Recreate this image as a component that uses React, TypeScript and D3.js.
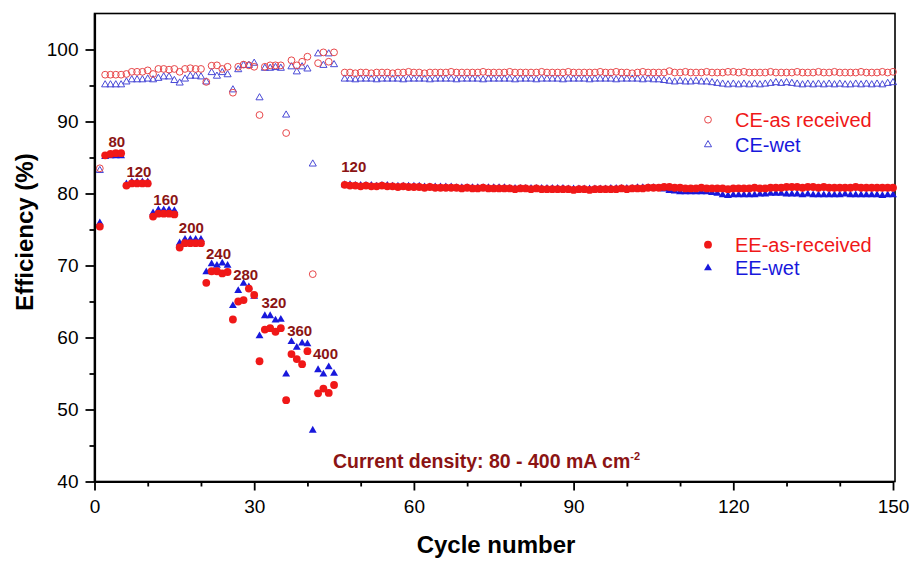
import React, { useRef, useEffect } from "react";
import * as d3 from "d3";

// cycles 1-45: rate test, cycles 47-150: stability at 120 mA cm-2
const cyclesRate = d3.range(1, 46);
const cyclesLong = d3.range(47, 151);

const ceAsRate = [
  83.5, 96.5, 96.5, 96.5, 96.5, 96.6, 96.9, 96.9, 96.9, 97.1, 96.6, 97.3, 97.3, 97.2, 97.3,
  96.9, 97.3, 97.4, 97.3, 97.3, 95.5, 97.75, 97.8, 97.3, 97.6, 94.0, 97.6, 97.9, 97.8, 97.6,
  90.9, 97.6, 97.8, 97.8, 97.8, 88.4, 98.5, 97.8, 98.3, 99.0, 68.8, 98.1, 99.6, 98.3, 99.6,
];
const ceWetRate = [
  83.2, 95.1, 95.1, 95.1, 95.1, 95.5, 95.8, 95.8, 95.8, 95.9, 95.8, 96.0, 96.2, 96.2, 95.7,
  95.35, 95.9, 96.3, 96.3, 96.2, 95.5, 96.8, 96.3, 96.8, 96.5, 94.4, 97.2, 97.8, 97.8, 98.1,
  93.3, 97.4, 97.4, 97.5, 97.4, 90.9, 97.6, 96.9, 97.6, 97.3, 84.1, 99.4, 97.8, 99.4, 97.9,
];
const eeAsRate = [
  75.4, 85.3, 85.5, 85.6, 85.6, 81.1, 81.4, 81.4, 81.4, 81.4, 76.8, 77.2, 77.2, 77.2, 77.1,
  72.5, 73.1, 73.1, 73.1, 73.1, 67.6, 69.2, 69.2, 68.9, 69.1, 62.5, 65.0, 65.2, 66.8, 65.9,
  56.7, 61.1, 61.3, 60.8, 61.3, 51.3, 57.7, 57.0, 56.3, 58.1, null, 52.25, 52.9, 52.3, 53.4,
];
const eeWetRate = [
  75.9, 85.1, 85.2, 85.2, 85.2, 81.3, 81.6, 81.6, 81.6, 81.6, 77.3, 77.7, 77.7, 77.7, 77.6,
  73.1, 73.6, 73.6, 73.6, 73.6, 69.1, 70.2, 70.0, 70.3, 70.0, 64.4, 66.5, 67.5, 67.0, 65.7,
  60.2, 63.0, 63.0, 62.4, 62.5, 54.9, 59.4, 58.6, 59.2, 59.1, 47.1, 55.5, 54.9, 55.9, 55.0,
];

const ceAsLong = [
  96.8, 96.8, 96.7, 96.8, 96.8, 96.7, 96.8, 96.8, 96.8, 96.7, 96.8, 96.8, 96.9,
  96.8, 96.8, 96.7, 96.8, 96.8, 96.8, 96.8, 96.9, 96.8, 96.8, 96.8, 96.8, 96.8,
  96.9, 96.8, 96.8, 96.8, 96.8, 96.9, 96.8, 96.8, 96.8, 96.8, 96.8, 96.9, 96.8,
  96.8, 96.8, 96.8, 96.9, 96.8, 96.8, 96.8, 96.8, 96.8, 96.9, 96.8, 96.8, 96.9,
  96.8, 96.8, 96.7, 96.8, 96.9, 96.8, 96.8, 96.8, 96.8, 97.0, 96.8, 96.8, 96.9,
  96.8, 96.8, 96.8, 96.9, 96.8, 96.8, 96.8, 96.9, 96.9, 96.8, 96.9, 96.8, 96.8,
  96.8, 96.8, 96.9, 96.8, 96.8, 96.8, 96.8, 96.9, 96.8, 96.8, 96.8, 96.9, 96.8,
  96.8, 96.9, 96.8, 96.8, 96.8, 96.8, 96.9, 96.8, 96.8, 96.8, 96.9, 96.8, 96.9,
];
const ceWetLong = [
  95.9, 95.9, 95.8, 95.9, 95.9, 95.9, 95.8, 95.9, 95.9, 95.9, 95.9, 95.8, 95.9,
  95.9, 95.9, 95.9, 95.8, 95.9, 95.9, 95.9, 95.9, 95.8, 95.9, 95.9, 95.9, 95.9,
  95.8, 95.9, 95.9, 95.9, 95.9, 95.9, 95.8, 95.9, 95.9, 95.9, 95.8, 95.9, 95.9,
  95.9, 95.9, 95.8, 95.9, 95.9, 95.9, 95.9, 95.8, 95.9, 95.9, 95.9, 95.9, 95.8,
  95.9, 95.9, 95.9, 95.9, 95.8, 95.9, 95.8, 95.8, 95.7, 95.6, 95.5, 95.6, 95.5,
  95.5, 95.6, 95.5, 95.5, 95.4, 95.3, 95.2, 95.1, 95.2, 95.1, 95.2, 95.1, 95.2,
  95.1, 95.2, 95.3, 95.4, 95.3, 95.4, 95.3, 95.2, 95.1, 95.2, 95.1, 95.2, 95.1,
  95.2, 95.1, 95.2, 95.1, 95.1, 95.2, 95.1, 95.2, 95.1, 95.2, 95.1, 95.3, 95.4,
];
const eeAsLong = [
  81.2, 81.1, 81.1, 81.0, 81.1, 81.0, 81.0, 81.1, 81.0, 81.0, 80.9, 81.0, 80.9,
  80.9, 80.9, 80.8, 80.9, 80.8, 80.8, 80.8, 80.8, 80.8, 80.7, 80.8, 80.7, 80.7,
  80.8, 80.7, 80.7, 80.7, 80.7, 80.7, 80.6, 80.7, 80.7, 80.6, 80.7, 80.6, 80.6,
  80.6, 80.6, 80.6, 80.6, 80.5, 80.6, 80.6, 80.5, 80.6, 80.6, 80.6, 80.6, 80.6,
  80.7, 80.6, 80.7, 80.7, 80.7, 80.8, 80.8, 80.8, 80.9, 80.9, 80.8, 80.8, 80.7,
  80.7, 80.7, 80.8, 80.7, 80.7, 80.7, 80.7, 80.6, 80.7, 80.7, 80.7, 80.7, 80.8,
  80.7, 80.7, 80.8, 80.8, 80.8, 80.9, 80.9, 80.9, 80.8, 80.9, 80.9, 80.8, 80.9,
  80.8, 80.8, 80.8, 80.8, 80.8, 80.9, 80.8, 80.8, 80.8, 80.8, 80.8, 80.8, 80.8,
];
const eeWetLong = [
  81.2, 81.2, 81.1, 81.1, 81.1, 81.1, 81.0, 81.1, 81.1, 81.0, 81.0, 81.0, 81.0,
  81.0, 81.0, 80.9, 80.9, 80.9, 80.9, 80.9, 80.9, 80.8, 80.8, 80.8, 80.8, 80.8,
  80.8, 80.8, 80.8, 80.8, 80.8, 80.7, 80.7, 80.7, 80.7, 80.7, 80.7, 80.7, 80.7,
  80.7, 80.7, 80.7, 80.6, 80.6, 80.6, 80.6, 80.6, 80.6, 80.6, 80.6, 80.7, 80.7,
  80.7, 80.7, 80.7, 80.8, 80.8, 80.8, 80.8, 80.7, 80.6, 80.4, 80.3, 80.2, 80.2,
  80.2, 80.2, 80.2, 80.2, 80.1, 80.0, 79.8, 79.7, 79.8, 79.8, 79.8, 79.8, 79.8,
  79.9, 79.9, 80.0, 80.0, 80.0, 79.9, 79.9, 79.9, 79.8, 79.9, 79.8, 79.8, 79.8,
  79.8, 79.8, 79.8, 79.9, 79.8, 79.8, 79.8, 79.8, 79.8, 79.8, 79.7, 79.8, 79.8,
];

// current density labels, anchored at (cycle, efficiency)
const rateLabels = [
  { text: "80", cycle: 4.2, eff: 86.5 },
  { text: "120", cycle: 8.35, eff: 82.3 },
  { text: "160", cycle: 13.4, eff: 78.4 },
  { text: "200", cycle: 18.2, eff: 74.5 },
  { text: "240", cycle: 23.3, eff: 70.9 },
  { text: "280", cycle: 28.4, eff: 68.0 },
  { text: "320", cycle: 33.7, eff: 64.05 },
  { text: "360", cycle: 38.55, eff: 60.2 },
  { text: "400", cycle: 43.4, eff: 57.0 },
  { text: "120", cycle: 48.7, eff: 83.0 },
];

const xMajorTicks = [0, 30, 60, 90, 120, 150];
const yMajorTicks = [40, 50, 60, 70, 80, 90, 100];

const RED = "#f01818";
const BLUE = "#1818dc";
const RED_OPEN = "#e8474a";
const BLUE_OPEN = "#4a4ad6";
const LABEL = "#8b1414";
const FONT = "'Liberation Sans', Arial, sans-serif";

const toPoints = (values) =>
  [...cyclesRate, ...cyclesLong]
    .map((c, i) => ({ c, v: values[i] }))
    .filter((d) => d.v != null);

const EfficiencyChart = () => {
  const svgRef = useRef();

  useEffect(() => {
    const svg = d3.select(svgRef.current);
    svg.selectAll("*").remove();

    const x = d3.scaleLinear().domain([0, 150]).range([94.5, 893]);
    const y = d3.scaleLinear().domain([40, 105]).range([481.5, 13.5]);

    // frame
    svg
      .append("rect")
      .attr("x", 94.5)
      .attr("y", 13.5)
      .attr("width", 895 - 94.5)
      .attr("height", 481.5 - 13.5)
      .attr("fill", "none")
      .attr("stroke", "#000")
      .attr("stroke-width", 1.6);

    const triangle = (size) => d3.symbol().type(d3.symbolTriangle).size(size)();

    const series = [
      { values: [...ceWetRate, ...ceWetLong], kind: "tri", fill: "none", stroke: BLUE_OPEN },
      { values: [...ceAsRate, ...ceAsLong], kind: "circ", fill: "none", stroke: RED_OPEN },
      { values: [...eeWetRate, ...eeWetLong], kind: "tri", fill: BLUE, stroke: "none" },
      { values: [...eeAsRate, ...eeAsLong], kind: "circ", fill: RED, stroke: "none" },
    ];

    series.forEach((s) => {
      const g = svg.append("g");
      const pts = toPoints(s.values);
      if (s.kind === "circ") {
        g.selectAll("circle")
          .data(pts)
          .join("circle")
          .attr("cx", (d) => x(d.c))
          .attr("cy", (d) => y(d.v))
          .attr("r", s.fill === "none" ? 3.4 : 3.9)
          .attr("fill", s.fill)
          .attr("stroke", s.stroke)
          .attr("stroke-width", 1);
      } else {
        g.selectAll("path")
          .data(pts)
          .join("path")
          .attr("d", triangle(s.fill === "none" ? 22 : 27))
          .attr("transform", (d) => `translate(${x(d.c)},${y(d.v)})`)
          .attr("fill", s.fill)
          .attr("stroke", s.stroke)
          .attr("stroke-width", 1);
      }
    });

    // axes
    const xAxis = svg
      .append("g")
      .attr("transform", "translate(0,481.5)")
      .call(
        d3.axisBottom(x).tickValues(xMajorTicks).tickSize(9).tickSizeOuter(0).tickPadding(9)
      );
    svg
      .append("g")
      .attr("transform", "translate(0,481.5)")
      .call(
        d3
          .axisBottom(x)
          .tickValues(d3.range(10, 150, 10).filter((t) => t % 30 !== 0))
          .tickSize(5)
          .tickSizeOuter(0)
          .tickFormat(() => "")
      )
      .select(".domain")
      .remove();

    const yAxis = svg
      .append("g")
      .attr("transform", "translate(94.5,0)")
      .call(d3.axisLeft(y).tickValues(yMajorTicks).tickSize(9).tickSizeOuter(0).tickPadding(7));
    svg
      .append("g")
      .attr("transform", "translate(94.5,0)")
      .call(
        d3
          .axisLeft(y)
          .tickValues(d3.range(45, 105, 10))
          .tickSize(5)
          .tickSizeOuter(0)
          .tickFormat(() => "")
      )
      .select(".domain")
      .remove();

    svg.selectAll(".tick line").attr("stroke", "#000").attr("stroke-width", 1.8);
    [xAxis, yAxis].forEach((a) => {
      a.select(".domain").attr("stroke", "#000").attr("stroke-width", 2.2);
      a.selectAll("text")
        .attr("fill", "#000")
        .style("font-family", FONT)
        .style("font-size", "19px");
    });

    // rate annotations
    svg
      .append("g")
      .selectAll("text")
      .data(rateLabels)
      .join("text")
      .attr("x", (d) => x(d.cycle))
      .attr("y", (d) => y(d.eff))
      .attr("text-anchor", "middle")
      .attr("fill", LABEL)
      .style("font-family", FONT)
      .style("font-weight", "bold")
      .style("font-size", "15px")
      .text((d) => d.text);

    const cd = svg
      .append("text")
      .attr("x", x(44.8))
      .attr("y", y(41.9))
      .attr("fill", LABEL)
      .style("font-family", FONT)
      .style("font-weight", "bold")
      .style("font-size", "19.5px");
    cd.append("tspan").text("Current density: 80 - 400 mA cm");
    cd.append("tspan").attr("dy", -8).style("font-size", "11px").text("-2");

    // legend
    const legend = [
      { label: "CE-as received", kind: "circ", fill: "none", stroke: RED_OPEN, color: RED, ty: 126.7 },
      { label: "CE-wet", kind: "tri", fill: "none", stroke: BLUE_OPEN, color: BLUE, ty: 151.7 },
      { label: "EE-as-received", kind: "circ", fill: RED, stroke: "none", color: RED, ty: 251.7 },
      { label: "EE-wet", kind: "tri", fill: BLUE, stroke: "none", color: BLUE, ty: 275 },
    ];
    const lg = svg.append("g").selectAll("g").data(legend).join("g");
    lg.each(function (d) {
      const g = d3.select(this);
      if (d.kind === "circ") {
        g.append("circle")
          .attr("cx", 708)
          .attr("cy", d.ty - 7)
          .attr("r", d.fill === "none" ? 3.4 : 3.9)
          .attr("fill", d.fill)
          .attr("stroke", d.stroke);
      } else {
        g.append("path")
          .attr("d", triangle(d.fill === "none" ? 22 : 27))
          .attr("transform", `translate(708,${d.ty - 7})`)
          .attr("fill", d.fill)
          .attr("stroke", d.stroke);
      }
      g.append("text")
        .attr("x", 735)
        .attr("y", d.ty)
        .attr("fill", d.color)
        .style("font-family", FONT)
        .style("font-size", "20px")
        .text(d.label);
    });

    // axis titles
    svg
      .append("text")
      .attr("transform", "translate(33,232) rotate(-90)")
      .attr("text-anchor", "middle")
      .style("font-family", FONT)
      .style("font-weight", "bold")
      .style("font-size", "24px")
      .text("Efficiency (%)");
    svg
      .append("text")
      .attr("x", 496)
      .attr("y", 553)
      .attr("text-anchor", "middle")
      .style("font-family", FONT)
      .style("font-weight", "bold")
      .style("font-size", "24px")
      .text("Cycle number");
  }, []);

  return (
    <svg
      ref={svgRef}
      width={914}
      height={561}
      style={{ position: "absolute", left: 0, top: 0, background: "#fff" }}
    />
  );
};

export default EfficiencyChart;
